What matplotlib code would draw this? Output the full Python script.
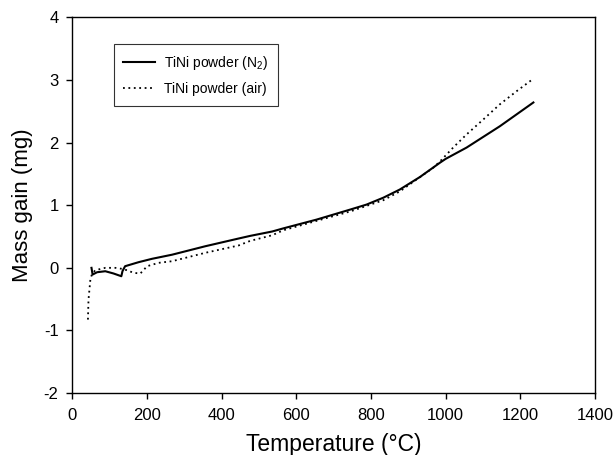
import matplotlib
matplotlib.use('Agg')
import matplotlib.pyplot as plt

plt.rcParams['font.family'] = ['Liberation Sans', 'DejaVu Sans']
plt.rcParams['mathtext.fontset'] = 'custom'
plt.rcParams['mathtext.rm'] = 'Liberation Sans'
plt.rcParams['mathtext.it'] = 'Liberation Sans'
plt.rcParams['axes.unicode_minus'] = False

# TiNi powder under N2
temp_n2 = [51, 54, 66, 88, 110, 131, 134, 141, 177, 213, 267, 356, 445, 476,
           535, 565, 654, 744, 788, 833, 877, 931, 985, 1000, 1056, 1145, 1235]
mass_n2 = [0.0, -0.107, -0.07, -0.054, -0.09, -0.134, -0.054, 0.026, 0.09,
           0.144, 0.21, 0.345, 0.468, 0.51, 0.58, 0.63, 0.77, 0.93, 1.01, 1.12,
           1.25, 1.45, 1.68, 1.74, 1.92, 2.26, 2.64]

# TiNi powder in air
temp_air = [41.5, 43, 48, 52, 61, 88, 115, 133, 146, 164, 182, 200, 231, 267,
            356, 445, 476, 535, 565, 654, 744, 833, 877, 922, 967, 985, 1020,
            1056, 1101, 1145, 1190, 1235]
mass_air = [-0.826, -0.507, -0.187, -0.107, -0.038, 0.0, 0.0, -0.016, -0.038,
            -0.08, -0.09, 0.026, 0.08, 0.106, 0.24, 0.357, 0.43, 0.52, 0.6,
            0.75, 0.9, 1.08, 1.22, 1.41, 1.6, 1.70, 1.92, 2.13, 2.37, 2.61,
            2.82, 3.02]

xticks = [0, 200, 400, 600, 800, 1000, 1200, 1400]
yticks = [-2, -1, 0, 1, 2, 3, 4]

fig = plt.figure(figsize=(6.14, 4.55), dpi=100)
ax = fig.add_axes([0.118, 0.136, 0.851, 0.826])

ax.plot(temp_n2, mass_n2, color='black', lw=1.5, ls='-',
        label='TiNi powder (N$_2$)')
ax.plot(temp_air, mass_air, color='black', lw=1.3, ls=(0, (1, 2)),
        label='TiNi powder (air)')

ax.set_xlim(0, 1400)
ax.set_ylim(-2, 4)
ax.set_xticks(xticks)
ax.set_yticks(yticks)
ax.tick_params(direction='out', length=4, width=1, labelsize=12,
               top=False, right=False)
ax.tick_params(axis='x', pad=7)
ax.tick_params(axis='y', pad=6)
for sp in ax.spines.values():
    sp.set_linewidth(1.0)

ax.set_xlabel('Temperature (°C)', fontsize=16.5, labelpad=7)
ax.set_ylabel('Mass gain (mg)', fontsize=16, labelpad=8)

leg = ax.legend(loc='upper left', bbox_to_anchor=(0.079, 0.929),
                borderaxespad=0, fontsize=10, frameon=True, fancybox=False,
                edgecolor='black', handlelength=2.3, handletextpad=0.6,
                borderpad=0.7, labelspacing=0.75)
leg.get_frame().set_linewidth(0.8)

fig.savefig('out.png', dpi=100)
